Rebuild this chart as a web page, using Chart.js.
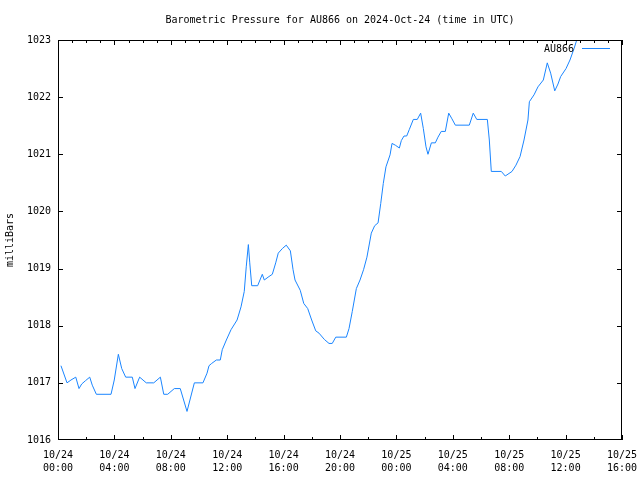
<!DOCTYPE html>
<html>
<head>
<meta charset="utf-8">
<script src="https://cdn.jsdelivr.net/npm/chart.js@4"></script>
<style>
  body { margin: 0; background: #fff; }
</style>
</head>
<body>
<canvas id="chart" width="640" height="480"></canvas>
<script>
// hours since 2024-10-24 00:00 UTC
const hours = [
  0.21, 0.64, 0.92, 1.26, 1.49, 1.68, 1.96, 2.25, 2.43, 2.72,
  3.76, 3.99, 4.28, 4.52, 4.80, 5.27, 5.46, 5.79, 6.26, 6.79,
  7.26, 7.50, 7.78, 8.25, 8.67, 9.15, 9.67, 10.28, 10.57, 10.71,
  10.90, 11.23, 11.51, 11.65, 11.94, 12.27, 12.70, 12.98, 13.21, 13.35,
  13.50, 13.60, 13.74, 14.16, 14.49, 14.63, 14.96, 15.20, 15.44, 15.62,
  15.91, 16.19, 16.48, 16.67, 16.81, 17.18, 17.43, 17.71, 17.99, 18.28,
  18.51, 18.89, 19.22, 19.45, 19.70, 20.45, 20.64, 20.87, 21.16, 21.42,
  21.67, 21.91, 22.22, 22.46, 22.70, 22.89, 23.07, 23.26, 23.55, 23.69,
  23.92, 24.21, 24.35, 24.54, 24.73, 24.91, 25.20, 25.48, 25.72, 25.91,
  26.10, 26.24, 26.48, 26.76, 26.95, 27.18, 27.47, 27.71, 27.94, 28.18,
  29.17, 29.45, 29.70, 30.45, 30.59, 30.73, 31.44, 31.72, 32.20, 32.48,
  32.77, 33.05, 33.33, 33.43, 33.76, 34.04, 34.42, 34.70, 34.94, 35.23,
  35.46, 35.65, 36.03, 36.31, 36.60, 36.79
];
const pressure = [
  1017.3, 1017.0, 1017.05, 1017.1, 1016.9, 1016.98, 1017.04, 1017.1, 1016.96, 1016.8,
  1016.8, 1017.05, 1017.5, 1017.25, 1017.1, 1017.1, 1016.9, 1017.1, 1017.0, 1017.0,
  1017.1, 1016.8, 1016.8, 1016.9, 1016.9, 1016.5, 1017.0, 1017.0, 1017.17, 1017.3,
  1017.34, 1017.4, 1017.4, 1017.58, 1017.75, 1017.93, 1018.1, 1018.33, 1018.6, 1019.03,
  1019.42, 1019.1, 1018.7, 1018.7, 1018.9, 1018.8, 1018.86, 1018.9, 1019.1, 1019.27,
  1019.35, 1019.41, 1019.31, 1018.98, 1018.8, 1018.62, 1018.39, 1018.3, 1018.1, 1017.91,
  1017.87, 1017.76, 1017.69, 1017.69, 1017.8, 1017.8, 1017.95, 1018.25, 1018.65, 1018.8,
  1018.98, 1019.2, 1019.62, 1019.75, 1019.8, 1020.14, 1020.49, 1020.78, 1020.99, 1021.19,
  1021.16, 1021.11, 1021.24, 1021.32, 1021.32, 1021.43, 1021.61, 1021.61, 1021.72, 1021.45,
  1021.13, 1021.0, 1021.2, 1021.2, 1021.3, 1021.4, 1021.4, 1021.72, 1021.62, 1021.51,
  1021.51, 1021.72, 1021.61, 1021.61, 1021.25, 1020.7, 1020.7, 1020.62, 1020.7, 1020.81,
  1020.96, 1021.25, 1021.6, 1021.92, 1022.04, 1022.18, 1022.3, 1022.6, 1022.42, 1022.11,
  1022.23, 1022.36, 1022.5, 1022.65, 1022.85, 1023.0
];
const xTickLabels = [
  ['10/24', '00:00'], ['10/24', '04:00'], ['10/24', '08:00'], ['10/24', '12:00'],
  ['10/24', '16:00'], ['10/24', '20:00'], ['10/25', '00:00'], ['10/25', '04:00'],
  ['10/25', '08:00'], ['10/25', '12:00'], ['10/25', '16:00']
];
const seriesName = 'AU866';
const chartTitle = 'Barometric Pressure for AU866 on 2024-Oct-24 (time in UTC)';

const mono = 'DejaVu Sans Mono, Liberation Mono, monospace';
const lineColor = '#1a85ff';

// gnuplot style frame: box, inward ticks, title and key
const gnuplotFrame = {
  id: 'gnuplotFrame',
  afterDraw(chart) {
    const { ctx, chartArea: a, scales: { x, y } } = chart;
    ctx.save();
    ctx.strokeStyle = '#000';
    ctx.lineWidth = 1;
    ctx.strokeRect(a.left + 0.5, a.top + 0.5, a.width - 1, a.height - 1);

    ctx.beginPath();
    for (let h = 0; h <= 40; h++) {
      const px = Math.round(x.getPixelForValue(h)) + 0.5;
      const len = h % 4 === 0 ? 5 : 3;
      if (h % 2 === 0) {
        ctx.moveTo(px, a.bottom);
        ctx.lineTo(px, a.bottom - len);
      }
      ctx.moveTo(px, a.top);
      ctx.lineTo(px, a.top + len);
    }
    for (let v = 1017; v <= 1022; v++) {
      const py = Math.round(y.getPixelForValue(v)) + 0.5;
      ctx.moveTo(a.left, py);
      ctx.lineTo(a.left + 5, py);
      ctx.moveTo(a.right, py);
      ctx.lineTo(a.right - 5, py);
    }
    ctx.stroke();

    ctx.fillStyle = '#000';
    ctx.font = '10px ' + mono;
    ctx.textAlign = 'center';
    ctx.textBaseline = 'middle';
    ctx.fillText(chartTitle, (a.left + a.right) / 2, 20);

    ctx.textAlign = 'right';
    ctx.fillText(seriesName, a.right - 48, 49);
    ctx.strokeStyle = lineColor;
    ctx.beginPath();
    ctx.moveTo(a.right - 40, 48.5);
    ctx.lineTo(a.right - 12, 48.5);
    ctx.stroke();
    ctx.restore();
  }
};

new Chart(document.getElementById('chart'), {
  type: 'line',
  data: {
    datasets: [{
      label: seriesName,
      data: hours.map((h, i) => ({ x: h, y: pressure[i] })),
      borderColor: lineColor,
      borderWidth: 1,
      pointRadius: 0,
      tension: 0,
      fill: false
    }]
  },
  options: {
    responsive: false,
    animation: false,
    devicePixelRatio: 1,
    layout: { padding: { top: 40, right: 18, left: 0, bottom: 0 } },
    plugins: {
      legend: { display: false },
      title: { display: false },
      tooltip: { enabled: false }
    },
    scales: {
      x: {
        type: 'linear',
        min: 0,
        max: 40,
        grid: { display: false, drawTicks: false },
        border: { display: false },
        afterFit: s => {
          s.height = 40;
          s.paddingLeft = 0;
          s.paddingRight = 0;
        },
        ticks: {
          stepSize: 4,
          autoSkip: false,
          maxRotation: 0,
          padding: 9,
          color: '#000',
          font: { family: mono, size: 10, lineHeight: 1.3 },
          callback: v => xTickLabels[v / 4]
        }
      },
      y: {
        min: 1016,
        max: 1023,
        grid: { display: false, drawTicks: false },
        border: { display: false },
        afterFit: s => {
          s.width = 58;
          s.paddingTop = 0;
          s.paddingBottom = 0;
        },
        title: {
          display: true,
          text: 'milliBars',
          color: '#000',
          padding: { top: 4, bottom: 0 },
          font: { family: mono, size: 10 }
        },
        ticks: {
          stepSize: 1,
          padding: 7,
          color: '#000',
          font: { family: mono, size: 10 },
          callback: v => String(v)
        }
      }
    }
  },
  plugins: [gnuplotFrame]
});
</script>
</body>
</html>
